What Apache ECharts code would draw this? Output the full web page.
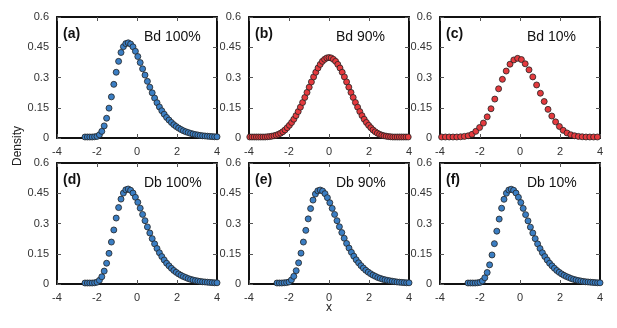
<!DOCTYPE html>
<html>
<head>
<meta charset="UTF-8">
<title>Density panels</title>
<script src="https://cdn.jsdelivr.net/npm/echarts@6/dist/echarts.min.js"></script>
</head>
<body style="margin:0;background:#fff">
<div id="chart" style="width:617px;height:328px;"></div>
<script type="text/javascript">
// x grids
var xBlue=[-2.6,-2.48,-2.36,-2.24,-2.12,-2.0,-1.88,-1.76,-1.64,-1.52,-1.4,-1.28,-1.16,-1.04,-0.92,-0.8,-0.68,-0.56,-0.44,-0.32,-0.2,-0.08,0.04,0.16,0.28,0.4,0.52,0.64,0.76,0.88,1.0,1.12,1.24,1.36,1.48,1.6,1.72,1.84,1.96,2.08,2.2,2.32,2.44,2.56,2.68,2.8,2.92,3.04,3.16,3.28,3.4,3.52,3.64,3.76,3.88,4.0];
var xB=[-3.96,-3.85,-3.74,-3.63,-3.52,-3.41,-3.3,-3.19,-3.08,-2.97,-2.86,-2.75,-2.64,-2.53,-2.42,-2.31,-2.2,-2.09,-1.98,-1.87,-1.76,-1.65,-1.54,-1.43,-1.32,-1.21,-1.1,-0.99,-0.88,-0.77,-0.66,-0.55,-0.44,-0.33,-0.22,-0.11,0,0.11,0.22,0.33,0.44,0.55,0.66,0.77,0.88,0.99,1.1,1.21,1.32,1.43,1.54,1.65,1.76,1.87,1.98,2.09,2.2,2.31,2.42,2.53,2.64,2.75,2.86,2.97,3.08,3.19,3.3,3.41,3.52,3.63,3.74,3.85,3.96];
var xC=[-3.92,-3.73,-3.54,-3.35,-3.16,-2.97,-2.78,-2.59,-2.40,-2.21,-2.02,-1.83,-1.64,-1.45,-1.26,-1.07,-0.88,-0.69,-0.50,-0.31,-0.12,0.07,0.26,0.45,0.64,0.83,1.02,1.21,1.40,1.59,1.78,1.97,2.16,2.35,2.54,2.73,2.92,3.11,3.30,3.49,3.68,3.87];

// densities
var yA=[0.005,0.005,0.005,0.005,0.006,0.008,0.016,0.033,0.06,0.098,0.148,0.204,0.266,0.326,0.38,0.424,0.453,0.468,0.472,0.466,0.452,0.43,0.404,0.374,0.343,0.312,0.281,0.252,0.224,0.198,0.175,0.154,0.135,0.118,0.102,0.089,0.077,0.066,0.057,0.049,0.042,0.036,0.031,0.027,0.023,0.02,0.017,0.015,0.013,0.011,0.01,0.009,0.008,0.007,0.006,0.006];
var yB=[0.005,0.005,0.005,0.005,0.005,0.005,0.005,0.005,0.006,0.007,0.009,0.011,0.014,0.018,0.024,0.031,0.04,0.051,0.063,0.077,0.093,0.111,0.131,0.153,0.176,0.201,0.226,0.252,0.278,0.303,0.326,0.347,0.365,0.38,0.39,0.397,0.399,0.397,0.39,0.38,0.365,0.347,0.326,0.303,0.278,0.252,0.226,0.201,0.176,0.153,0.131,0.111,0.093,0.077,0.063,0.051,0.04,0.031,0.024,0.018,0.014,0.011,0.009,0.007,0.006,0.005,0.005,0.005,0.005,0.005,0.005,0.005,0.005];
var yC=[0.005,0.005,0.005,0.005,0.005,0.006,0.008,0.011,0.018,0.033,0.052,0.074,0.105,0.145,0.193,0.244,0.291,0.332,0.366,0.387,0.395,0.389,0.368,0.338,0.303,0.263,0.222,0.181,0.142,0.109,0.08,0.057,0.038,0.025,0.016,0.011,0.008,0.006,0.005,0.005,0.005,0.005];
var yD=[0.005,0.005,0.005,0.005,0.006,0.009,0.018,0.036,0.064,0.103,0.152,0.208,0.268,0.327,0.379,0.421,0.451,0.467,0.471,0.465,0.451,0.43,0.405,0.376,0.345,0.314,0.283,0.253,0.225,0.199,0.176,0.155,0.136,0.119,0.103,0.09,0.078,0.067,0.058,0.05,0.043,0.037,0.032,0.027,0.023,0.02,0.017,0.015,0.013,0.011,0.01,0.009,0.008,0.007,0.006,0.006];
var yE=[0.005,0.005,0.005,0.006,0.007,0.01,0.02,0.038,0.066,0.105,0.153,0.208,0.266,0.323,0.374,0.416,0.446,0.462,0.466,0.461,0.448,0.428,0.403,0.375,0.345,0.314,0.284,0.255,0.227,0.201,0.178,0.157,0.138,0.12,0.105,0.091,0.079,0.068,0.059,0.051,0.044,0.038,0.032,0.028,0.024,0.021,0.018,0.016,0.014,0.012,0.01,0.009,0.008,0.007,0.006,0.006];
var yF=[0.005,0.005,0.005,0.005,0.006,0.008,0.015,0.031,0.057,0.095,0.144,0.2,0.262,0.322,0.376,0.42,0.45,0.466,0.47,0.465,0.451,0.43,0.404,0.375,0.344,0.313,0.282,0.253,0.225,0.199,0.176,0.155,0.136,0.119,0.103,0.09,0.078,0.067,0.058,0.05,0.043,0.037,0.032,0.027,0.023,0.02,0.017,0.015,0.013,0.011,0.01,0.009,0.008,0.007,0.006,0.006];

var tags=['(a)','(b)','(c)','(d)','(e)','(f)'];
var names=['Bd 100%','Bd 90%','Bd 10%','Db 100%','Db 90%','Db 10%'];

var BLUE='#3b7ec3', RED='#e43a3e';
var panels=[
	{x:xBlue,y:yA,c:BLUE},
	{x:xB,y:yB,c:RED},
	{x:xC,y:yC,c:RED},
	{x:xBlue,y:yD,c:BLUE},
	{x:xBlue,y:yE,c:BLUE},
	{x:xBlue,y:yF,c:BLUE}
];
var lefts=[57,249,440], tops=[17,163];
var W=160, H=121;
var FONT='Liberation Sans';

function zip(xs,ys){
	var out=[];
	for(var i=0;i<xs.length;i++){ out.push([xs[i],ys[i]]); }
	return out;
}

var grid=[],xAxis=[],yAxis=[],series=[],title=[];
for(var p=0;p<6;p++){
	var gl=lefts[p%3], gt=tops[Math.floor(p/3)];
	grid.push({left:gl,top:gt,width:W,height:H,show:false});
	var lineStyle={color:'#111',width:2};
	var tick={show:true,inside:true,length:4,lineStyle:{color:'#555',width:1}};
	xAxis.push({type:'value',gridIndex:p,min:-4,max:4,interval:2,position:'bottom',
		axisLine:{show:true,onZero:false,lineStyle:lineStyle},
		axisTick:tick,splitLine:{show:false},
		axisLabel:{color:'#333',fontSize:11,fontFamily:FONT,margin:8}});
	xAxis.push({type:'value',gridIndex:p,min:-4,max:4,interval:2,position:'top',
		axisLine:{show:true,onZero:false,lineStyle:lineStyle},
		axisTick:tick,splitLine:{show:false},axisLabel:{show:false}});
	yAxis.push({type:'value',gridIndex:p,min:0,max:0.6,interval:0.15,position:'left',
		axisLine:{show:true,onZero:false,lineStyle:lineStyle},
		axisTick:tick,splitLine:{show:false},
		axisLabel:{color:'#333',fontSize:11,fontFamily:FONT,margin:8,
			formatter:function(v){ return String(Math.round(v*100)/100); }}});
	yAxis.push({type:'value',gridIndex:p,min:0,max:0.6,interval:0.15,position:'right',
		axisLine:{show:true,onZero:false,lineStyle:lineStyle},
		axisTick:tick,splitLine:{show:false},axisLabel:{show:false}});
	series.push({type:'scatter',xAxisIndex:p*2,yAxisIndex:p*2,
		data:zip(panels[p].x,panels[p].y),
		symbol:'circle',symbolSize:6,clip:false,
		itemStyle:{color:panels[p].c,borderColor:'#222',borderWidth:0.8,opacity:1},
		emphasis:{disabled:true},animation:false});
	title.push({text:tags[p],left:gl+6,top:gt+10,padding:0,
		textStyle:{fontSize:14,fontWeight:'bold',color:'#111',fontFamily:FONT}});
	title.push({text:names[p],left:gl+87,top:gt+13,padding:0,
		textStyle:{fontSize:14,fontWeight:'normal',color:'#111',fontFamily:FONT}});
}

var mychart=echarts.init(document.getElementById('chart'));
mychart.setOption({
	backgroundColor:'#fff',
	animation:false,
	title:title,
	grid:grid,
	xAxis:xAxis,
	yAxis:yAxis,
	series:series,
	graphic:[
		{type:'text',left:12,top:126,rotation:Math.PI/2,
			style:{text:'Density',fontSize:12,fill:'#222',fontFamily:FONT}},
		{type:'text',left:326,top:302,
			style:{text:'x',fontSize:12,fill:'#222',fontFamily:FONT}}
	]
});
</script>
</body>
</html>
